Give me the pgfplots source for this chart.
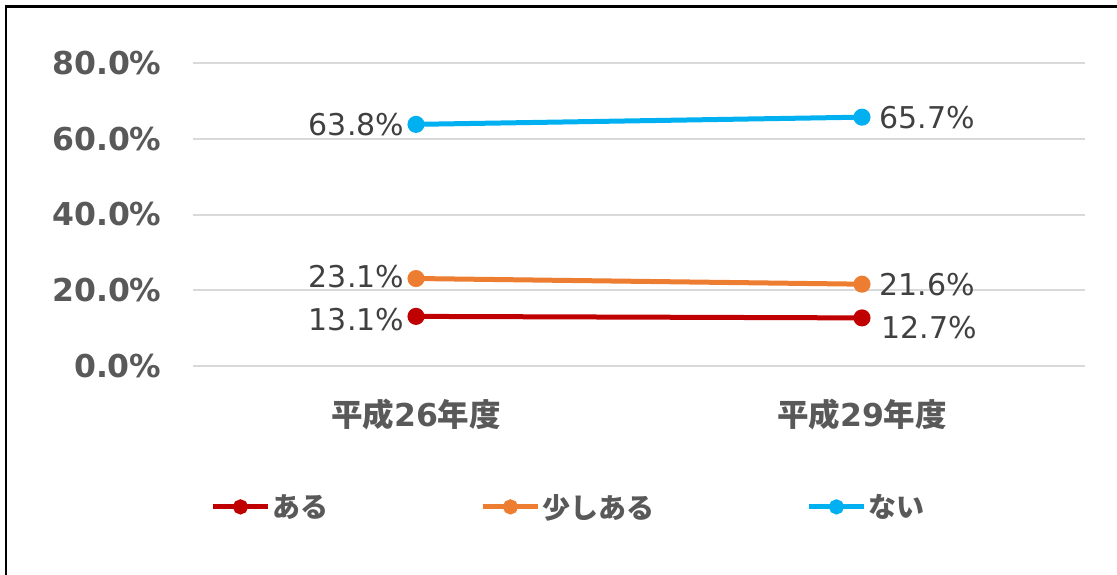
\documentclass[border=0pt]{standalone}
\usepackage{pgfplots}
\pgfplotsset{compat=1.18}
\usepackage{fontspec}
\setmainfont{DejaVu Sans}
\newfontfamily\jp{Noto Sans CJK JP}
\definecolor{cRed}{HTML}{C00000}
\definecolor{cOrange}{HTML}{ED7D31}
\definecolor{cBlue}{HTML}{00B0F0}
\definecolor{cGrid}{HTML}{D9D9D9}
\definecolor{cTick}{HTML}{595959}
\definecolor{cLab}{HTML}{404040}
\begin{document}
\begin{tikzpicture}[x=1pt,y=1pt]
\useasboundingbox (0,0) rectangle (1117,574);
\draw[line width=2.5pt,black] (6,-20) -- (6,567.5) -- (1140,567.5);
\begin{axis}[
  at={(193pt,208pt)}, anchor=south west,
  scale only axis, width=892pt, height=303pt,
  xmin=-0.5, xmax=1.5, ymin=0, ymax=80,
  xtick={0,1}, xticklabels={{\jp 平成}26{\jp 年度},{\jp 平成}29{\jp 年度}},
  ytick={0,20,40,60,80},
  yticklabel={\pgfmathprintnumber[fixed,fixed zerofill,precision=1]{\tick}\%},
  /pgf/number format/assume math mode=true,
  axis line style={draw=none},
  major tick length=0pt,
  ymajorgrids, grid style={cGrid,line width=2pt},
  tick label style={font=\fontsize{31.5}{35}\selectfont\bfseries, text=cTick},
  yticklabel style={xshift=-28pt},
  xticklabel style={yshift=-29pt},
  clip=false,
  every axis plot/.append style={line width=5pt, mark=*, mark size=6pt, mark options={solid}},
  legend columns=3,
  legend style={draw=none, at={(axis description cs:0.016,-0.465)}, anchor=west,
     font=\jp\fontsize{28}{32}\selectfont\bfseries, text=cTick,
     /tikz/every even column/.append style={column sep=150pt}},
  legend image code/.code={\draw[mark repeat=2,mark phase=2,#1,mark size=5pt] plot coordinates {(0pt,0pt) (27.5pt,0pt) (55pt,0pt)};},
]
\addplot[color=cRed] coordinates {(0,13.1) (1,12.7)}
  node[pos=0,anchor=east,xshift=-6pt,yshift=-3pt,font=\fontsize{30}{34}\selectfont,text=cLab]{13.1\%}
  node[pos=1,anchor=west,xshift=14pt,yshift=-10pt,font=\fontsize{30}{34}\selectfont,text=cLab]{12.7\%};
\addlegendentry{ある}
\addplot[color=cOrange] coordinates {(0,23.1) (1,21.6)}
  node[pos=0,anchor=east,xshift=-6pt,yshift=2pt,font=\fontsize{30}{34}\selectfont,text=cLab]{23.1\%}
  node[pos=1,anchor=west,xshift=12pt,yshift=0pt,font=\fontsize{30}{34}\selectfont,text=cLab]{21.6\%};
\addlegendentry{少しある}
\addplot[color=cBlue] coordinates {(0,63.8) (1,65.7)}
  node[pos=0,anchor=east,xshift=-6pt,yshift=0pt,font=\fontsize{30}{34}\selectfont,text=cLab]{63.8\%}
  node[pos=1,anchor=west,xshift=12pt,yshift=0pt,font=\fontsize{30}{34}\selectfont,text=cLab]{65.7\%};
\addlegendentry{ない}
\end{axis}
\end{tikzpicture}
\end{document}
